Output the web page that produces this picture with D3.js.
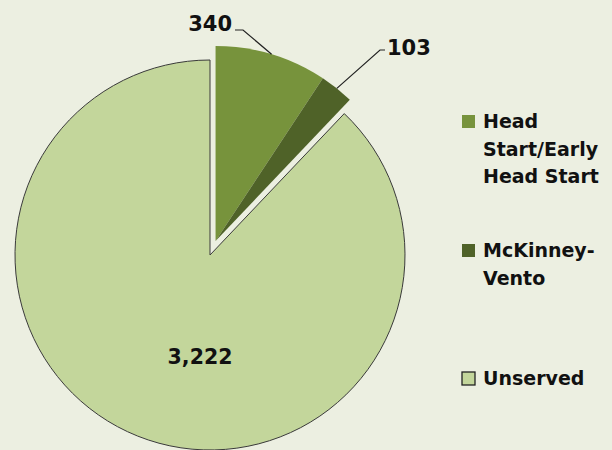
<!DOCTYPE html>
<html>
<head>
<meta charset="utf-8">
<script src="https://cdn.jsdelivr.net/npm/d3@7"></script>
<style>
  html, body { margin: 0; padding: 0; background: #ECEFE1; }
  svg { display: block; }
  text { font-family: "DejaVu Sans", sans-serif; font-weight: bold; fill: #111; }
</style>
</head>
<body>
<svg id="chart" width="612" height="450"></svg>
<script>
const categories = ["Head Start/Early Head Start", "McKinney-Vento", "Unserved"];
const values = [340, 103, 3222];
const valueLabels = ["340", "103", "3,222"];
const legendLines = [["Head", "Start/Early", "Head Start"], ["McKinney-", "Vento"], ["Unserved"]];
const exploded = [true, true, false];
const colors = ["#77933C", "#4F6228", "#C3D69B"];

const svg = d3.select("#chart");
svg.append("rect").attr("width", 612).attr("height", 450).attr("fill", "#ECEFE1");

const cx = 210, cy = 255, r = 195, explode = 15;

const pie = d3.pie().sort(null).value(d => d);
const arcs = pie(values);
const arc = d3.arc().innerRadius(0).outerRadius(r);
const edgeArc = d3.arc().innerRadius(r).outerRadius(r);

// common explode direction: bisector of exploded slices
const ex = arcs.filter((a, i) => exploded[i]);
const exMid = (d3.min(ex, a => a.startAngle) + d3.max(ex, a => a.endAngle)) / 2;
const offX = explode * Math.sin(exMid), offY = -explode * Math.cos(exMid);

const g = svg.append("g").attr("transform", `translate(${cx},${cy})`);

arcs.forEach((a, i) => {
  const dx = exploded[i] ? offX : 0, dy = exploded[i] ? offY : 0;
  g.append("path")
    .attr("d", arc(a))
    .attr("transform", `translate(${dx},${dy})`)
    .attr("fill", colors[i])
    .attr("stroke", exploded[i] ? "none" : "#3a3a3a")
    .attr("stroke-width", exploded[i] ? 0 : 1);
});

// labels for exploded slices with leader lines
const labelSpecs = [
  { i: 0, lx: 243 - cx, ly: 30 - cy, tx: 232 - cx, ty: 31 - cy, anchor: "end", hx: 235 - cx },
  { i: 1, lx: 380 - cx, ly: 50 - cy, tx: 387 - cx, ty: 55 - cy, anchor: "start", hx: 385 - cx }
];
labelSpecs.forEach(s => {
  const a = arcs[s.i];
  const [px, py] = edgeArc.centroid(a);
  const ax = px + offX, ay = py + offY;
  g.append("polyline")
    .attr("points", `${ax},${ay} ${s.lx},${s.ly} ${s.hx},${s.ly}`)
    .attr("fill", "none")
    .attr("stroke", "#222")
    .attr("stroke-width", 1.2);
  g.append("text")
    .attr("x", s.tx).attr("y", s.ty)
    .attr("text-anchor", s.anchor)
    .attr("font-size", 21)
    .text(valueLabels[s.i]);
});

// label for unserved
g.append("text")
  .attr("x", 200 - cx).attr("y", 364 - cy)
  .attr("text-anchor", "middle")
  .attr("font-size", 20.5)
  .text(valueLabels[2]);

// legend
const legendY = [128, 257, 385];
const lg = svg.append("g");
categories.forEach((c, i) => {
  const y = legendY[i];
  lg.append("rect")
    .attr("x", 462).attr("y", y - 13)
    .attr("width", 13).attr("height", 13)
    .attr("fill", colors[i])
    .attr("stroke", i === 2 ? "#222" : "none")
    .attr("stroke-width", 1.3);
  const t = lg.append("text").attr("x", 483).attr("y", y).attr("font-size", 19);
  legendLines[i].forEach((line, k) => {
    t.append("tspan").attr("x", 483).attr("y", y + k * 27.5).text(line);
  });
});
</script>
</body>
</html>
